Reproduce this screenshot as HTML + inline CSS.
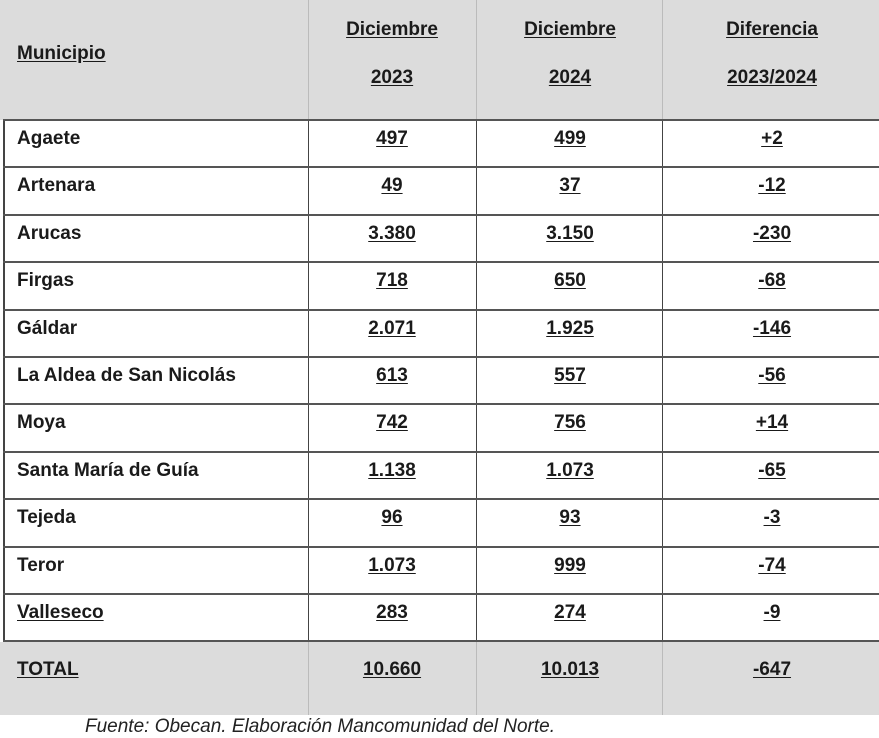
<!DOCTYPE html>
<html><head><meta charset="utf-8"><style>
body{margin:0;width:879px;height:735px;background:#fff;position:relative;overflow:hidden;font-family:"Liberation Sans",sans-serif;}
.t{position:absolute;font-weight:bold;font-size:19px;color:#1a1a1a;text-decoration:underline;text-underline-offset:2px;white-space:nowrap;}
.c{transform:translateX(-50%);}
.hl{position:absolute;left:3px;right:0;height:2px;background:#555;}
.vl{position:absolute;width:1px;background:#444;}
</style></head><body>
<div style="position:absolute;left:0;top:0;width:879px;height:120px;background:#dcdcdc"></div>
<div style="position:absolute;left:0;top:642px;width:879px;height:73px;background:#dcdcdc"></div>
<div class="vl" style="left:308px;top:0;height:715px;background:#bbb"></div>
<div class="vl" style="left:476px;top:0;height:715px;background:#bbb"></div>
<div class="vl" style="left:662px;top:0;height:715px;background:#bbb"></div>
<div class="vl" style="left:308px;top:120px;height:522px"></div>
<div class="vl" style="left:476px;top:120px;height:522px"></div>
<div class="vl" style="left:662px;top:120px;height:522px"></div>
<div class="vl" style="left:3px;top:120px;height:522px;width:2px"></div>
<div class="t" style="left:17px;top:43px">Municipio</div>
<div class="t c" style="left:392px;top:19px">Diciembre</div>
<div class="t c" style="left:392px;top:67px">2023</div>
<div class="t c" style="left:570px;top:19px">Diciembre</div>
<div class="t c" style="left:570px;top:67px">2024</div>
<div class="t c" style="left:772px;top:19px">Diferencia</div>
<div class="t c" style="left:772px;top:67px">2023/2024</div>
<div id="rows"></div>
<div style="position:absolute;left:85px;top:716px;font-style:italic;font-size:19px;color:#222">Fuente: Obecan. Elaboración Mancomunidad del Norte.</div>
<script>
var d=[["Agaete","497","499","+2"],["Artenara","49","37","-12"],["Arucas","3.380","3.150","-230"],["Firgas","718","650","-68"],["Gáldar","2.071","1.925","-146"],["La Aldea de San Nicolás","613","557","-56"],["Moya","742","756","+14"],["Santa María de Guía","1.138","1.073","-65"],["Tejeda","96","93","-3"],["Teror","1.073","999","-74"],["Valleseco","283","274","-9"],["TOTAL","10.660","10.013","-647"]];
var h="";
for(var i=0;i<d.length;i++){var y=120+i*47.4;
 h+='<div class="hl" style="top:'+(y-1)+'px"></div>';
 var ty=y+(i==11?18:8);
 var u=(i>=10)?'underline':'none';
 h+='<div class="t" style="left:17px;top:'+ty+'px;text-decoration:'+u+'">'+d[i][0]+'</div>';
 h+='<div class="t c" style="left:392px;top:'+ty+'px">'+d[i][1]+'</div>';
 h+='<div class="t c" style="left:570px;top:'+ty+'px">'+d[i][2]+'</div>';
 h+='<div class="t c" style="left:772px;top:'+ty+'px">'+d[i][3]+'</div>';}
document.getElementById("rows").innerHTML=h;
</script>
</body></html>
